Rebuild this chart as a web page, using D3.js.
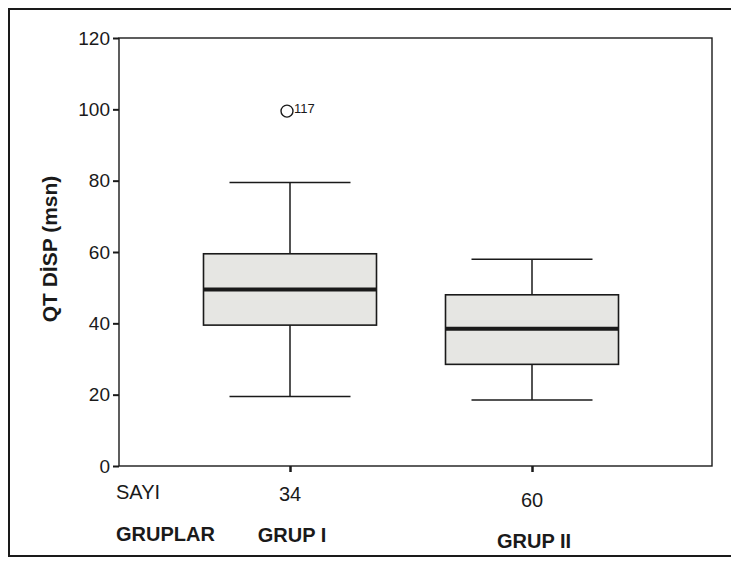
<!DOCTYPE html>
<html><head><meta charset="utf-8">
<script src="https://cdn.jsdelivr.net/npm/d3@7/dist/d3.min.js"></script>
<style>body{margin:0;background:#fff}svg{display:block}text{font-family:"Liberation Sans",Arial,sans-serif;fill:#1a1a1a}</style>
</head><body><svg id="c" width="731" height="572"></svg>
<script>
const groups = ["GRUP I", "GRUP II"];
const counts = [34, 60];
const whiskerLow = [19.5, 18.5];
const q1 = [39.5, 28.5];
const median = [49.5, 38.5];
const q3 = [59.5, 48];
const whiskerHigh = [79.5, 58];
const outliers = [{group: "GRUP I", value: 99.5, label: "117"}];
const yTicks = [0, 20, 40, 60, 80, 100, 120];

const svg = d3.select("#c");
const L = 119, R = 712, T = 38, B = 466;
const y = d3.scaleLinear().domain([0, 120]).range([B, T]);
const x = d3.scalePoint().domain(groups).range([290, 532]);
const boxW = 173, capW = 121;
const ink = "#1a1a1a";

// outer frame
svg.append("rect").attr("x", 9).attr("y", 9).attr("width", 740).attr("height", 547)
  .attr("fill", "none").attr("stroke", ink).attr("stroke-width", 2);

// plot frame
svg.append("rect").attr("x", L).attr("y", T).attr("width", R - L).attr("height", B - T)
  .attr("fill", "none").attr("stroke", ink).attr("stroke-width", 1.4);

// y axis
const ya = svg.append("g").attr("transform", `translate(${L},0)`)
  .call(d3.axisLeft(y).tickValues(yTicks).tickSize(6).tickPadding(3));
ya.select(".domain").remove();
ya.selectAll("line").attr("stroke", ink).attr("stroke-width", 2);
ya.selectAll("text").attr("font-size", 19).attr("fill", ink);

// x axis ticks
const xa = svg.append("g").attr("transform", `translate(0,${B})`)
  .call(d3.axisBottom(x).tickSize(6).tickFormat(""));
xa.select(".domain").remove();
xa.selectAll("line").attr("stroke", ink).attr("stroke-width", 2.5);

// y label
svg.append("text").attr("transform", `translate(57,249) rotate(-90)`)
  .attr("text-anchor", "middle").attr("font-size", 21).attr("font-weight", "bold")
  .text("QT DİSP (msn)");

// boxes
const g = svg.append("g").selectAll("g").data(groups).join("g");
g.append("line").attr("x1", d => x(d)).attr("x2", d => x(d))
  .attr("y1", (d, i) => y(whiskerHigh[i])).attr("y2", (d, i) => y(q3[i]))
  .attr("stroke", ink).attr("stroke-width", 1.5);
g.append("line").attr("x1", d => x(d)).attr("x2", d => x(d))
  .attr("y1", (d, i) => y(q1[i])).attr("y2", (d, i) => y(whiskerLow[i]))
  .attr("stroke", ink).attr("stroke-width", 1.5);
g.append("line").attr("x1", d => x(d) - capW / 2).attr("x2", d => x(d) + capW / 2)
  .attr("y1", (d, i) => y(whiskerHigh[i])).attr("y2", (d, i) => y(whiskerHigh[i]))
  .attr("stroke", ink).attr("stroke-width", 1.5);
g.append("line").attr("x1", d => x(d) - capW / 2).attr("x2", d => x(d) + capW / 2)
  .attr("y1", (d, i) => y(whiskerLow[i])).attr("y2", (d, i) => y(whiskerLow[i]))
  .attr("stroke", ink).attr("stroke-width", 1.5);
g.append("rect").attr("x", d => x(d) - boxW / 2).attr("width", boxW)
  .attr("y", (d, i) => y(q3[i])).attr("height", (d, i) => y(q1[i]) - y(q3[i]))
  .attr("fill", "#e6e6e3").attr("stroke", ink).attr("stroke-width", 1.6);
g.append("line").attr("x1", d => x(d) - boxW / 2).attr("x2", d => x(d) + boxW / 2)
  .attr("y1", (d, i) => y(median[i])).attr("y2", (d, i) => y(median[i]))
  .attr("stroke", ink).attr("stroke-width", 4);

// outliers
const o = svg.append("g").selectAll("g").data(outliers).join("g");
o.append("circle").attr("cx", d => x(d.group) - 3).attr("cy", d => y(d.value)).attr("r", 6)
  .attr("fill", "none").attr("stroke", ink).attr("stroke-width", 1.4);
o.append("text").attr("x", d => x(d.group) + 4).attr("y", d => y(d.value) + 2)
  .attr("font-size", 13).text(d => d.label);

// bottom table
svg.append("text").attr("x", 116).attr("y", 499).attr("font-size", 20).text("SAYI");
svg.append("text").attr("x", 116).attr("y", 541).attr("font-size", 20).attr("font-weight", "bold").text("GRUPLAR");
svg.append("g").selectAll("text").data(groups).join("text")
  .attr("x", d => x(d)).attr("y", (d, i) => 501 + i * 6).attr("text-anchor", "middle")
  .attr("font-size", 20).text((d, i) => counts[i]);
svg.append("g").selectAll("text").data(groups).join("text")
  .attr("x", (d, i) => x(d) + 2).attr("y", (d, i) => 542 + i * 6).attr("text-anchor", "middle")
  .attr("font-size", 20).attr("font-weight", "bold").text(d => d);
</script></body></html>
